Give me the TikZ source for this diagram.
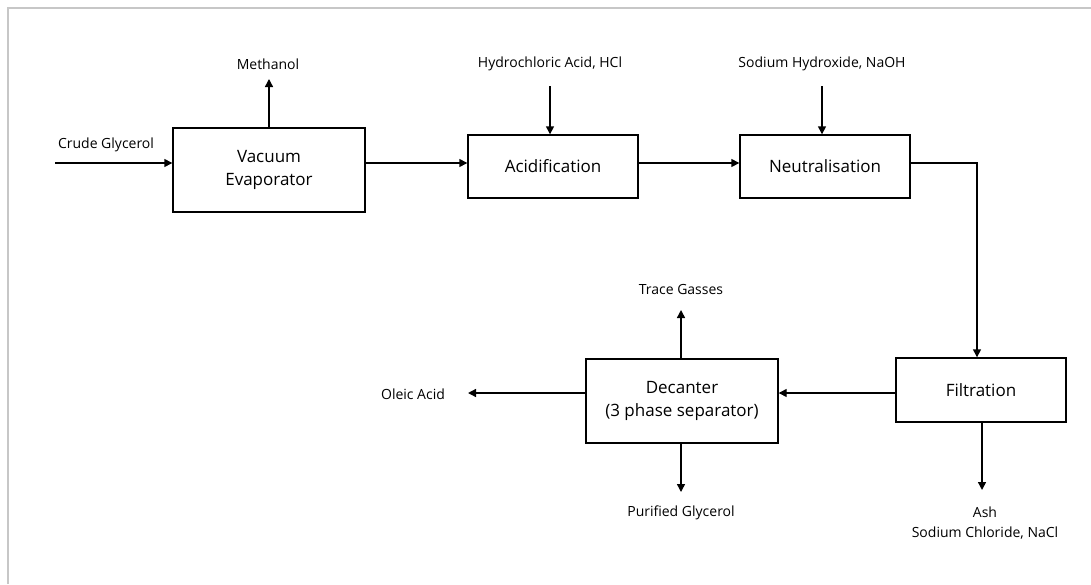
\documentclass[tikz,border=0pt]{standalone}
\usepackage{fontspec}
\setmainfont{Open Sans}
\usetikzlibrary{arrows.meta}
\begin{document}
\begin{tikzpicture}[x=1pt,y=-1pt,
  box/.style={draw,line width=1.4pt,rectangle,inner sep=0pt,align=center,font=\fontsize{17}{23.5}\selectfont},
  lab/.style={inner sep=0pt,align=center,font=\fontsize{14}{20}\selectfont},
  arr/.style={line width=1.4pt,-{Triangle[length=8pt,width=8pt]}}]
\useasboundingbox (0,0) rectangle (1091,584);
\draw[black!22,line width=1.5pt] (8,584) -- (8,8) -- (1091,8);
% boxes
\node[box,minimum width=192pt,minimum height=84pt] (ve) at (269,170) {Vacuum\\Evaporator};
\node[box,minimum width=170pt,minimum height=63pt] (acid) at (553,166.5) {Acidification};
\node[box,minimum width=170pt,minimum height=63pt] (neut) at (825,166.5) {Neutralisation};
\node[box,minimum width=170pt,minimum height=64pt] (filt) at (981,390) {Filtration};
\node[box,minimum width=192pt,minimum height=84pt] (dec) at (682,401) {Decanter\\(3 phase separator)};
% labels
\node[lab] (cglab) at (106,145) {Crude Glycerol};
\node[lab] (methlab) at (268,64) {Methanol};
\node[lab] (hcllab) at (550,64) {Hydrochloric Acid, HCl};
\node[lab] (naohlab) at (822,64) {Sodium Hydroxide, NaOH};
\node[lab] (tracelab) at (681,289) {Trace Gasses};
\node[lab] (oleiclab) at (413,394) {Oleic Acid};
\node[lab] (purlab) at (681,513) {Purified Glycerol};
\node[lab] (ashlab) at (985,523) {Ash\\Sodium Chloride, NaCl};
% coordinates
\coordinate (l1) at (0,163);
\coordinate (l2) at (0,393);
\coordinate (cg) at (55,163);
\coordinate (methtip) at (269,79);
\coordinate (hcltop) at (550,86);
\coordinate (naohtop) at (822,86);
\coordinate (nf) at (977,0);
\coordinate (oleictip) at (468,393);
\coordinate (tracetip) at (681,310);
\coordinate (purtip) at (681,492);
\coordinate (ashtip) at (982,490);
% connectors
\draw[arr] (cg) -- (ve.west |- cg);
\draw[arr] (ve.north -| methtip) -- (methtip);
\draw[arr] (ve.east |- l1) -- (acid.west |- l1);
\draw[arr] (hcltop) -- (acid.north -| hcltop);
\draw[arr] (acid.east |- l1) -- (neut.west |- l1);
\draw[arr] (naohtop) -- (neut.north -| naohtop);
\draw[arr] (neut.east |- l1) -| (filt.north -| nf);
\draw[arr] (filt.west |- l2) -- (dec.east |- l2);
\draw[arr] (dec.west |- l2) -- (oleictip);
\draw[arr] (dec.north -| tracetip) -- (tracetip);
\draw[arr] (dec.south -| purtip) -- (purtip);
\draw[arr] (filt.south -| ashtip) -- (ashtip);
\end{tikzpicture}
\end{document}
